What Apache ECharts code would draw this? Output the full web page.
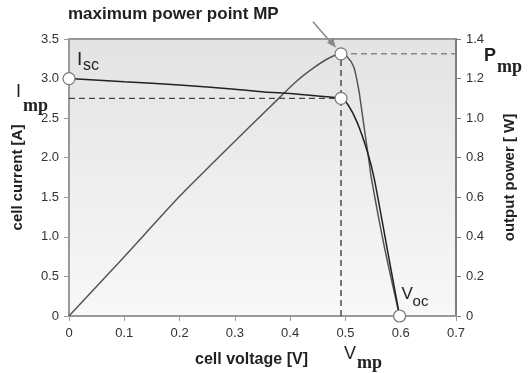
<!DOCTYPE html>
<html lang="en">
<head>
    <meta charset="UTF-8">
    <script src="https://cdn.jsdelivr.net/npm/echarts@6/dist/echarts.min.js"></script>
    <style>
        html, body { margin: 0; padding: 0; background: #fff; }
    </style>
</head>
<body>
<div id="main" style="width: 528px;height: 373px;"></div>
<script type="text/javascript">
    // I-V curve (cell current vs cell voltage)
    var ivVoltage = [0, 0.1, 0.2, 0.3, 0.354, 0.4, 0.45, 0.492, 0.504, 0.521, 0.54, 0.552, 0.575, 0.598];
    var ivCurrent = [3.0, 2.96, 2.92, 2.865, 2.83, 2.81, 2.78, 2.75, 2.675, 2.45, 2.07, 1.74, 0.87, 0];

    // P-V curve (output power vs cell voltage)
    var pvVoltage = [0, 0.1, 0.2, 0.262, 0.3225, 0.383, 0.413, 0.443, 0.468, 0.492, 0.503, 0.515, 0.524, 0.53, 0.536, 0.542, 0.547, 0.57, 0.598];
    var pvPower = [0, 0.30, 0.605, 0.778, 0.945, 1.11, 1.19, 1.255, 1.30, 1.325, 1.31, 1.26, 1.145, 1.03, 0.91, 0.795, 0.695, 0.355, 0];

    // characteristic points
    var isc = 3.0;
    var vmp = 0.492;
    var imp = 2.75;
    var pmp = 1.325;
    var voc = 0.598;

    var xTicks = [0, 0.1, 0.2, 0.3, 0.4, 0.5, 0.6, 0.7];
    var currentTicks = ['0', '0.5', '1.0', '1.5', '2.0', '2.5', '3.0', '3.5'];
    var powerTicks = ['0', '0.2', '0.4', '0.6', '0.8', '1.0', '1.2', '1.4'];

    var font = 'Liberation Sans, Arial, sans-serif';
    var serif = 'Liberation Serif, Times New Roman, serif';

    function zip(a, b) {
        return a.map(function (v, i) { return [v, b[i]]; });
    }

    var myChart = echarts.init(document.getElementById('main'));

    var option = {
        animation: false,
        backgroundColor: '#ffffff',
        textStyle: { fontFamily: font },
        title: {
            text: 'maximum power point MP',
            left: 63,
            top: 1,
            textStyle: { fontSize: 17, fontWeight: 'bold', color: '#222', fontFamily: font }
        },
        grid: {
            left: 69, right: 72, top: 39, bottom: 54,
            show: true,
            borderWidth: 2,
            borderColor: '#999',
            backgroundColor: new echarts.graphic.LinearGradient(0, 0, 0, 1, [
                { offset: 0, color: '#e3e3e3' },
                { offset: 1, color: '#f8f8f8' }
            ])
        },
        xAxis: {
            type: 'value',
            min: xTicks[0], max: xTicks[xTicks.length - 1], interval: 0.1,
            name: 'cell voltage [V]',
            nameLocation: 'middle',
            nameGap: 36,
            nameTextStyle: { fontSize: 16, fontWeight: 'bold', color: '#222', padding: [0, 22, 0, 0] },
            axisLine: { lineStyle: { color: '#999', width: 2 } },
            axisTick: { length: 5, lineStyle: { color: '#999' } },
            axisLabel: {
                fontSize: 13, color: '#333', margin: 11,
                formatter: function (v) { return v === 0 ? '0' : v.toFixed(1); }
            },
            splitLine: { show: false }
        },
        yAxis: [{
            type: 'value',
            min: 0, max: 3.5, interval: 0.5,
            name: 'cell current [A]',
            nameLocation: 'middle',
            nameRotate: 90,
            nameGap: 44,
            nameTextStyle: { fontSize: 15, fontWeight: 'bold', color: '#222' },
            axisLine: { show: true, lineStyle: { color: '#999', width: 2 } },
            axisTick: { show: true, length: 5, lineStyle: { color: '#999' } },
            axisLabel: {
                fontSize: 13, color: '#333', margin: 10,
                formatter: function (v) { return currentTicks[Math.round(v / 0.5)]; }
            },
            splitLine: { show: false }
        }, {
            type: 'value',
            min: 0, max: 1.4, interval: 0.2,
            position: 'right',
            name: 'output power [ W]',
            nameLocation: 'middle',
            nameRotate: 90,
            nameGap: 46,
            nameTextStyle: { fontSize: 15, fontWeight: 'bold', color: '#222' },
            axisLine: { show: true, lineStyle: { color: '#777', width: 1.5 } },
            axisTick: { show: true, length: 5, lineStyle: { color: '#777' } },
            axisLabel: {
                fontSize: 13, color: '#333', margin: 10,
                formatter: function (v) { return powerTicks[Math.round(v / 0.2)]; }
            },
            splitLine: { show: false }
        }],
        series: [{
            name: 'Imp guide',
            type: 'line',
            data: [[0, imp], [vmp, imp]],
            symbol: 'none',
            lineStyle: { color: '#444', width: 1.3, type: [6, 4] },
            z: 2
        }, {
            name: 'Vmp guide',
            type: 'line',
            yAxisIndex: 1,
            data: [[vmp, 0], [vmp, pmp]],
            symbol: 'none',
            lineStyle: { color: '#333', width: 1.3, type: [6, 4] },
            z: 2
        }, {
            name: 'Pmp guide',
            type: 'line',
            yAxisIndex: 1,
            data: [[vmp, pmp], [0.7, pmp]],
            symbol: 'none',
            lineStyle: { color: '#888', width: 1.5, type: [6, 4] },
            z: 2
        }, {
            name: 'power',
            type: 'line',
            yAxisIndex: 1,
            data: zip(pvVoltage, pvPower),
            symbol: 'none',
            smooth: 0.25,
            lineStyle: { color: '#555', width: 1.5 },
            z: 3
        }, {
            name: 'current',
            type: 'line',
            data: zip(ivVoltage, ivCurrent),
            symbol: 'none',
            smooth: 0.25,
            lineStyle: { color: '#222', width: 1.5 },
            z: 4
        }, {
            name: 'points I',
            type: 'scatter',
            data: [[0, isc], [vmp, imp], [voc, 0]],
            symbolSize: 12,
            clip: false,
            itemStyle: { color: '#fff', borderColor: '#777', borderWidth: 1.2, opacity: 1 },
            z: 6
        }, {
            name: 'points P',
            type: 'scatter',
            yAxisIndex: 1,
            data: [[vmp, pmp]],
            symbolSize: 12,
            clip: false,
            itemStyle: { color: '#fff', borderColor: '#777', borderWidth: 1.2, opacity: 1 },
            z: 6
        }]
    };

    myChart.setOption(option);

    // annotations placed from the data points
    var pIsc = myChart.convertToPixel({ xAxisIndex: 0, yAxisIndex: 0 }, [0, isc]);
    var pImp = myChart.convertToPixel({ xAxisIndex: 0, yAxisIndex: 0 }, [0, imp]);
    var pPmp = myChart.convertToPixel({ xAxisIndex: 0, yAxisIndex: 1 }, [vmp, pmp]);
    var pVoc = myChart.convertToPixel({ xAxisIndex: 0, yAxisIndex: 0 }, [voc, 0]);
    var right = myChart.convertToPixel({ xAxisIndex: 0, yAxisIndex: 1 }, [0.7, 0]);

    function txt(x, y, s, size, weight, family) {
        return {
            type: 'text', x: x, y: y, z: 100,
            style: { text: s, fontSize: size, fontWeight: weight, fontFamily: family, fill: '#222', textVerticalAlign: 'top' }
        };
    }

    myChart.setOption({
        graphic: [
            // Isc
            txt(pIsc[0] + 8, pIsc[1] - 28, 'I', 19, 'normal', font),
            txt(pIsc[0] + 14, pIsc[1] - 21, 'sc', 16, 'normal', font),
            // Imp
            txt(pImp[0] - 53, pImp[1] - 15, 'I', 18, 'normal', font),
            txt(pImp[0] - 46, pImp[1] - 1, 'mp', 18, 'bold', serif),
            // Pmp
            txt(right[0] + 28, pPmp[1] - 7, 'P', 18, 'bold', font),
            txt(right[0] + 41, pPmp[1] + 5, 'mp', 18, 'bold', serif),
            // Vmp
            txt(pPmp[0] + 3, right[1] + 29, 'V', 18, 'normal', font),
            txt(pPmp[0] + 16, right[1] + 38, 'mp', 18, 'bold', serif),
            // Voc
            txt(pVoc[0] + 2, pVoc[1] - 30, 'V', 17, 'normal', font),
            txt(pVoc[0] + 13, pVoc[1] - 22, 'oc', 15, 'normal', font),
            // arrow to the maximum power point
            {
                type: 'line', z: 100,
                shape: { x1: pPmp[0] - 28, y1: pPmp[1] - 32, x2: pPmp[0] - 9, y2: pPmp[1] - 10 },
                style: { stroke: '#888', lineWidth: 1.5 }
            },
            {
                type: 'polygon', z: 100,
                shape: { points: [
                    [pPmp[0] - 5, pPmp[1] - 6],
                    [pPmp[0] - 14, pPmp[1] - 11],
                    [pPmp[0] - 8, pPmp[1] - 16]
                ] },
                style: { fill: '#888' }
            }
        ]
    });
</script>
</body>
</html>
